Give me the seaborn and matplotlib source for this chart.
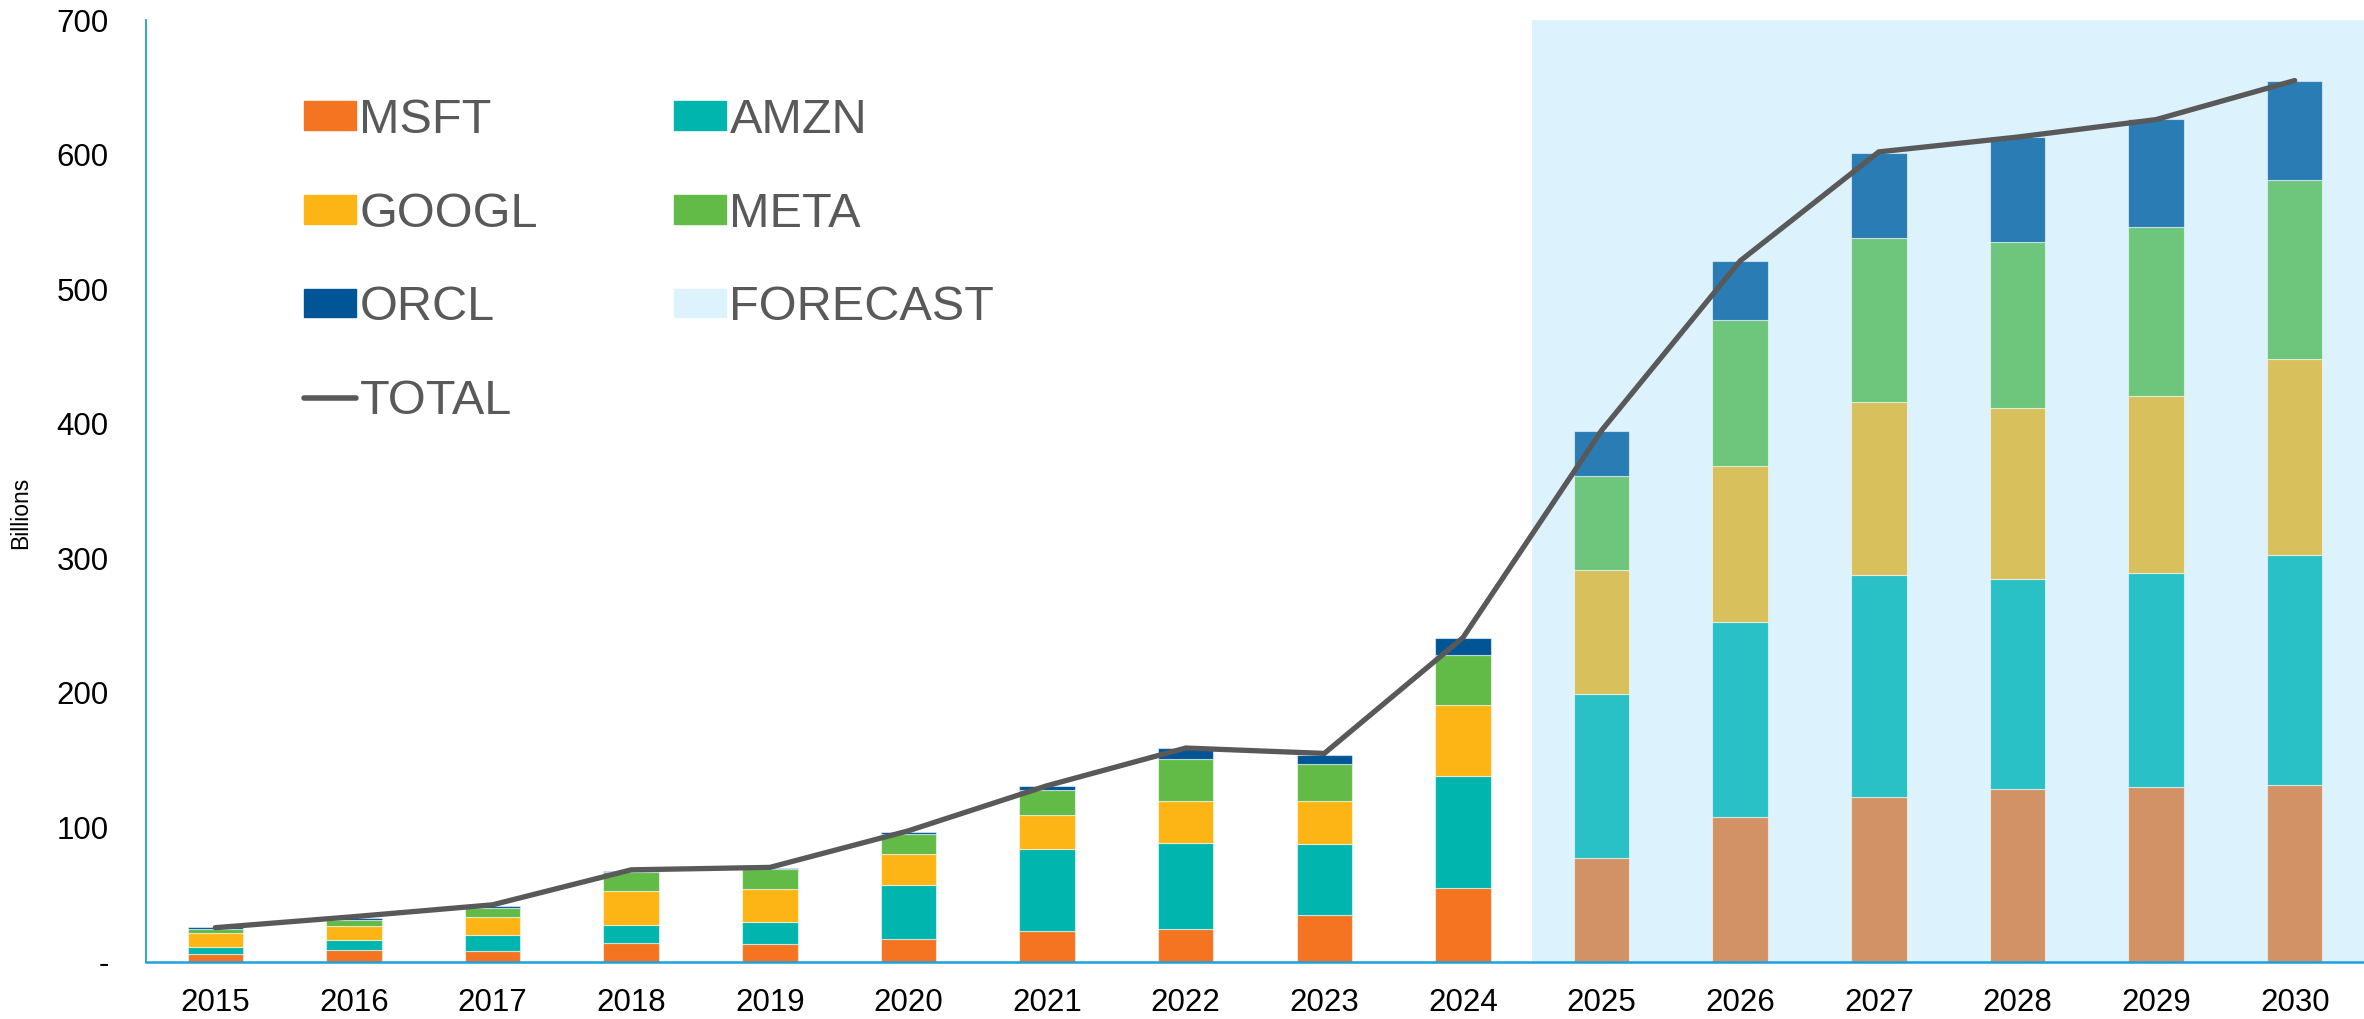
import matplotlib
matplotlib.use("Agg")
import matplotlib.pyplot as plt
import seaborn as sns
from matplotlib.lines import Line2D
from matplotlib.patches import Patch
from matplotlib.ticker import FuncFormatter

# values in billions
years = ["2015", "2016", "2017", "2018", "2019", "2020", "2021", "2022",
         "2023", "2024", "2025", "2026", "2027", "2028", "2029", "2030"]
msft = [5.9, 8.7, 8.4, 13.9, 13.1, 17.3, 23.0, 24.8, 35.1, 55.2,
        77.0, 108.0, 122.5, 128.7, 130.0, 131.8]
amzn = [5.2, 7.6, 11.7, 13.6, 16.6, 40.1, 60.9, 63.3, 52.3, 83.2,
        122.3, 144.9, 164.8, 156.0, 159.2, 170.5]
googl = [10.4, 10.7, 13.6, 25.0, 24.3, 22.6, 25.0, 31.9, 32.6, 52.7,
         91.7, 115.6, 128.6, 127.3, 131.4, 145.7]
meta = [2.8, 4.2, 6.2, 14.4, 14.9, 14.8, 18.6, 31.2, 27.3, 37.1,
        70.4, 108.5, 121.8, 123.0, 125.5, 133.2]
orcl = [1.5, 1.2, 2.0, 1.0, 1.2, 2.0, 3.4, 7.5, 6.7, 12.6,
        32.9, 43.6, 63.7, 78.3, 80.0, 73.8]
total = [25.5, 33.7, 42.5, 68.5, 70.3, 97.5, 131.0, 159.0, 155.0, 241.0,
         395.0, 521.0, 602.0, 613.0, 626.0, 655.0]
first_forecast = 10  # index of 2025

series = ["MSFT", "AMZN", "GOOGL", "META", "ORCL"]
values = [msft, amzn, googl, meta, orcl]
hist_colors = ["#F47421", "#00B5AE", "#FDB515", "#62BB46", "#005596"]
fc_colors = ["#D39265", "#29C1C6", "#D8C05C", "#6DC67B", "#2A7CB4"]
forecast_bg = "#DCF2FD"
line_color = "#595959"
axis_blue = "#1FA0DB"

sns.set_theme(style="white")
plt.rcParams["font.family"] = ["Liberation Sans", "DejaVu Sans"]

fig = plt.figure(figsize=(23.64, 10.19), dpi=100)
ax = fig.add_axes([146 / 2364, 1 - 962 / 1019, 1 - 146 / 2364, (962 - 20) / 1019])

x = list(range(len(years)))
ax.axvspan(first_forecast - 0.5, len(years) - 0.5, color=forecast_bg, lw=0, zorder=0)

# stacked bars, muted colours for forecast years
bottom = [0.0] * len(years)
for name, vals, hc, fc in zip(series, values, hist_colors, fc_colors):
    cols = [hc if i < first_forecast else fc for i in x]
    ax.bar(x, vals, width=0.4, bottom=bottom, color=cols,
           edgecolor=(1, 1, 1, 0.55), linewidth=0.8, zorder=2)
    bottom = [b + v for b, v in zip(bottom, vals)]

sns.lineplot(x=x, y=total, color=line_color, lw=3.8, ax=ax, zorder=3,
             solid_joinstyle="miter")

ax.set_xlim(-0.5, len(years) - 0.5)
ax.set_ylim(0, 700)
ax.set_yticks(range(0, 701, 100))
ax.yaxis.set_major_formatter(FuncFormatter(lambda v, p: "-" if v == 0 else f"{v:.0f}"))
ax.set_xticks(x)
ax.set_xticklabels(years)
ax.tick_params(axis="x", length=0, pad=19, labelsize=22.5, colors="black")
ax.tick_params(axis="y", length=0, pad=27, labelsize=22.5, colors="black")

for s in ["top", "right"]:
    ax.spines[s].set_visible(False)
for s in ["left", "bottom"]:
    ax.spines[s].set_color(axis_blue)
ax.spines["left"].set_linewidth(1.3)
ax.spines["bottom"].set_linewidth(1.8)

fig.text(21 / 2364, 1 - 513 / 1019, "Billions", rotation=90, ha="center", va="center",
         fontsize=16.5, color="black")

# legend: two columns, filled column-wise
handles = [
    Patch(color=hist_colors[0], label="MSFT"),
    Patch(color=hist_colors[2], label="GOOGL"),
    Patch(color=hist_colors[4], label="ORCL"),
    Line2D([0], [0], color=line_color, lw=4, solid_capstyle="round", label="TOTAL"),
    Patch(color=hist_colors[1], label="AMZN"),
    Patch(color=hist_colors[3], label="META"),
    Patch(color=forecast_bg, label="FORECAST"),
]
leg = fig.legend(handles=handles, ncol=2, loc="upper left",
                 bbox_to_anchor=(304 / 2364, 1 - 98 / 1019), frameon=False,
                 prop={"size": 35}, labelcolor=line_color,
                 handlelength=1.06, handleheight=0.53, handletextpad=0.08,
                 labelspacing=1.0, columnspacing=2.8, borderpad=0, borderaxespad=0)

fig.savefig("out.png", dpi=100)
